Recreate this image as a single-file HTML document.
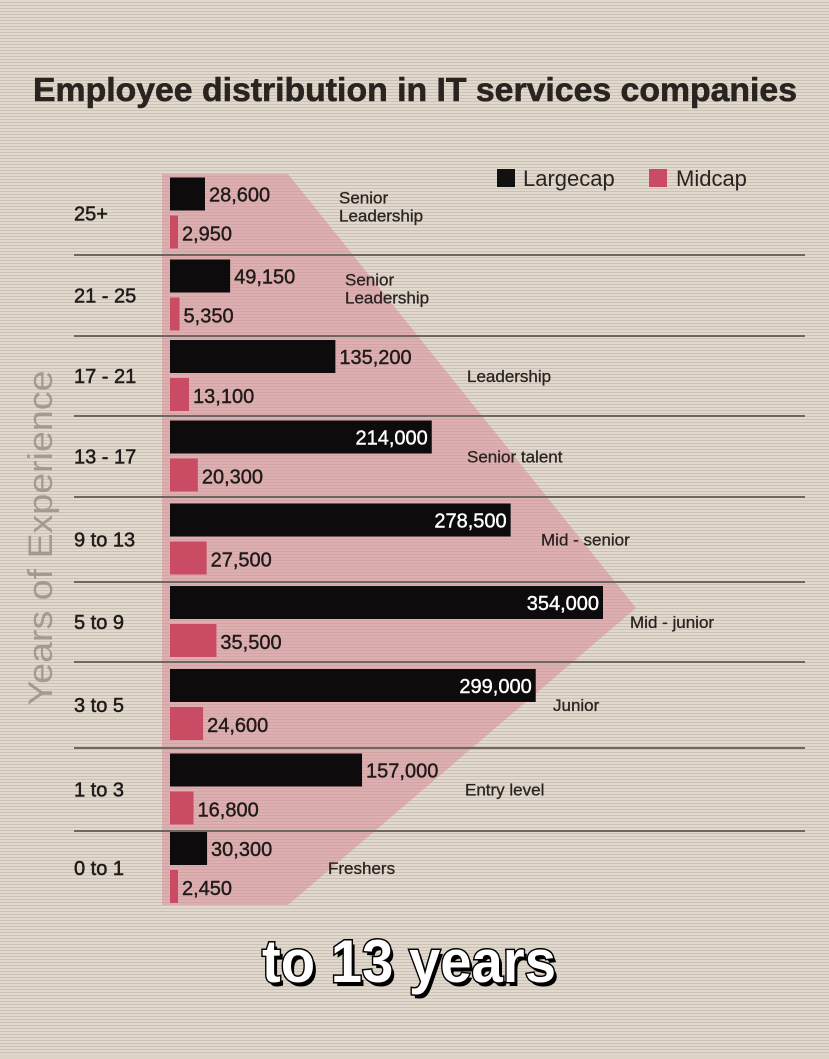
<!DOCTYPE html>
<html><head><meta charset="utf-8"><style>
html,body{margin:0;padding:0}
body{width:829px;height:1054px;overflow:hidden;background:#ddd3c7;font-family:"Liberation Sans",sans-serif}
</style></head><body>
<svg id="chart" width="829" height="1054" xmlns="http://www.w3.org/2000/svg" font-family="Liberation Sans, sans-serif">
<defs><pattern id="stripes" width="4" height="3" patternUnits="userSpaceOnUse"><rect width="4" height="3" fill="#e2d9ce"/><rect y="2" width="4" height="1" fill="#cbc1b5"/></pattern></defs>
<rect width="829" height="1054" fill="url(#stripes)"/>
<text x="33" y="101" font-size="33" font-weight="bold" fill="#2a2421" textLength="764" lengthAdjust="spacingAndGlyphs" stroke="#2a2421" stroke-width="0.6">Employee distribution in IT services companies</text>
<polygon points="162,174 288,174 636,608 288,905 162,905" fill="#d98d98" fill-opacity="0.55"/>
<g>
<rect x="497" y="169" width="18" height="18" fill="#111"/>
<text x="523" y="186" font-size="22" fill="#2a2421">Largecap</text>
<rect x="649" y="169" width="18" height="18" fill="#c94c64"/>
<text x="676" y="186" font-size="22" fill="#2a2421">Midcap</text>
</g>
<text transform="translate(52,538) rotate(-90)" text-anchor="middle" font-size="34" fill="#a39a91" textLength="335" lengthAdjust="spacingAndGlyphs">Years of Experience</text>
<g id="rows"></g>
<text x="262" y="982" font-size="60" font-weight="bold" fill="#000" textLength="294" lengthAdjust="spacingAndGlyphs" transform="translate(3,4)">to 13 years</text>
<text x="262" y="982" font-size="60" font-weight="bold" fill="#fff" stroke="#000" stroke-width="3" paint-order="stroke" textLength="294" lengthAdjust="spacingAndGlyphs">to 13 years</text>
</svg>
<script>
const categories = ["25+","21 - 25","17 - 21","13 - 17","9 to 13","5 to 9","3 to 5","1 to 3","0 to 1"];
const largecap = [28600,49150,135200,214000,278500,354000,299000,157000,30300];
const midcap = [2950,5350,13100,20300,27500,35500,24600,16800,2450];
const stages = [["Senior","Leadership"],["Senior","Leadership"],["Leadership"],["Senior talent"],["Mid - senior"],["Mid - junior"],["Junior"],["Entry level"],["Freshers"]];
const NS="http://www.w3.org/2000/svg";
const g=document.getElementById('rows');
const bounds=[172,255,336,416,497,582,662,748,831,905];
const stageX=[339,345,467,467,541,630,553,465,328];
const x0=170, xs=433/354000;
function x(v){return x0+v*xs;}
function mk(tag,attrs,txt){const e=document.createElementNS(NS,tag);for(const k in attrs)e.setAttribute(k,attrs[k]);if(txt!==undefined)e.textContent=txt;g.appendChild(e);return e;}
const fmt=v=>v.toLocaleString('en-US');
categories.forEach((c,i)=>{
  const top=bounds[i], bot=bounds[i+1], mid=(top+bot)/2;
  if(i>0){const l=mk('line',{x1:74,x2:805,y1:top,y2:top,stroke:'#6e6660','stroke-width':2});
    
    }
  const lt=mk('text',{x:74,y:mid+7,'font-size':20,fill:'#1e1a18',stroke:'#1e1a18','stroke-width':0.5},c);
  
  
  const ly=mid-36, my=mid+2, h=33;
  const b1=mk('rect',{x:x0,y:ly,width:x(largecap[i])-x0,height:h,fill:'#0d0b0b'});
  
  
  const inside=largecap[i]>200000;
  const col=inside?'#fff':'#1e1a18';
  const t1=mk('text',{x:inside?x(largecap[i])-4:x(largecap[i])+4,y:ly+24,'font-size':20,fill:col,stroke:col,'stroke-width':0.4,'text-anchor':inside?'end':'start'},fmt(largecap[i]));
  
  
  const mw=Math.max(x(midcap[i])-x0+3,8);
  const b2=mk('rect',{x:x0,y:my,width:mw,height:h,fill:'#c94c64'});
  
  
  const t2=mk('text',{x:x0+mw+4,y:my+25,'font-size':20,fill:'#1e1a18',stroke:'#1e1a18','stroke-width':0.4},fmt(midcap[i]));
  
  
  const lines=stages[i];
  lines.forEach((s,k)=>{
    const yy= lines.length===2? mid-10+k*18 : mid+6;
    const st=mk('text',{x:stageX[i],y:yy,'font-size':17,fill:'#2a2421',stroke:'#2a2421','stroke-width':0.3},s);
    
    
  });
});
</script>
</body></html>
